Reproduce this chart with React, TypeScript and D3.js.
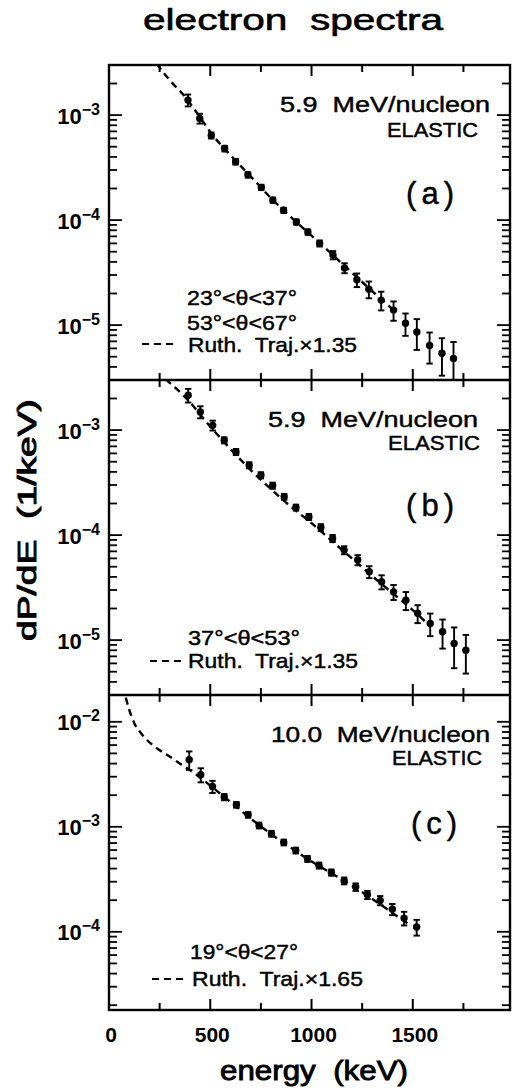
import React from 'react';
import * as d3 from 'd3';

// ---------- data ----------
const xTickValues = [0, 250, 500, 750, 1000, 1250, 1500, 1750];
const xLabelValues = [0, 500, 1000, 1500];
const xLabelTexts = ['0', '500', '1000', '1500'];

// panel (a) 5.9 MeV/nucleon, 23-37 / 53-67 deg
const energyA = [390, 448, 505, 571, 625, 686, 752, 809, 862, 925, 982, 1040, 1106, 1163, 1224, 1283, 1344, 1405, 1464, 1520, 1583, 1644, 1701];
const valueA = [1.39e-3, 9.3e-4, 6.4e-4, 4.8e-4, 3.6e-4, 2.7e-4, 2.05e-4, 1.55e-4, 1.24e-4, 9.6e-5, 7.7e-5, 6.0e-5, 4.65e-5, 3.5e-5, 2.7e-5, 2.2e-5, 1.73e-5, 1.39e-5, 1.04e-5, 8.6e-6, 6.4e-6, 5.4e-6, 4.8e-6];
const errA = [1.8e-4, 1.0e-4, 4.2e-5, 3.0e-5, 2.2e-5, 1.6e-5, 1.2e-5, 9e-6, 7e-6, 5.5e-6, 4.5e-6, 4e-6, 4.2e-6, 3.8e-6, 4e-6, 4e-6, 3.5e-6, 2.9e-6, 2.5e-6, 2.8e-6, 2.1e-6, 2.1e-6, 2.1e-6];
const curveEA = [235, 300, 375, 450, 500, 600, 700, 800, 900, 1000, 1100, 1200, 1300, 1400];
const curveVA = [3.1e-3, 2.15e-3, 1.5e-3, 9.5e-4, 6.9e-4, 4.15e-4, 2.6e-4, 1.62e-4, 1.06e-4, 7.1e-5, 4.75e-5, 3.15e-5, 2.1e-5, 1.42e-5];

// panel (b) 5.9 MeV/nucleon, 37-53 deg
const energyB = [391, 451, 512, 569, 627, 692, 750, 808, 865, 923, 987, 1046, 1104, 1161, 1228, 1285, 1346, 1405, 1466, 1524, 1586, 1647, 1704, 1762];
const valueB = [2.15e-3, 1.49e-3, 1.11e-3, 8.0e-4, 6.2e-4, 4.63e-4, 3.72e-4, 2.96e-4, 2.32e-4, 1.83e-4, 1.49e-4, 1.18e-4, 9.3e-5, 7.2e-5, 5.8e-5, 4.47e-5, 3.59e-5, 2.88e-5, 2.4e-5, 1.8e-5, 1.44e-5, 1.2e-5, 9.3e-6, 8.0e-6];
const errB = [3.2e-4, 1.95e-4, 1.2e-4, 5.3e-5, 4.1e-5, 3.1e-5, 2.5e-5, 2.0e-5, 1.5e-5, 1.2e-5, 1.0e-5, 9e-6, 7.2e-6, 6.3e-6, 6.4e-6, 5.8e-6, 5.5e-6, 4.7e-6, 4.7e-6, 3.5e-6, 3.5e-6, 3.7e-6, 3.9e-6, 3.2e-6];
const curveEB = [280, 390, 500, 600, 700, 800, 900, 1000, 1100, 1200, 1300, 1400, 1500, 1590];
const curveVB = [3.05e-3, 1.93e-3, 1.08e-3, 6.6e-4, 4.16e-4, 2.74e-4, 1.85e-4, 1.3e-4, 8.8e-5, 6.0e-5, 4.07e-5, 2.8e-5, 1.93e-5, 1.33e-5];

// panel (c) 10.0 MeV/nucleon, 19-27 deg
const energyC = [396, 453, 511, 569, 629, 687, 741, 802, 863, 922, 980, 1037, 1098, 1161, 1218, 1276, 1339, 1399, 1457, 1519];
const valueC = [4.35e-3, 3.13e-3, 2.42e-3, 1.92e-3, 1.62e-3, 1.30e-3, 1.03e-3, 8.6e-4, 7.1e-4, 5.95e-4, 4.95e-4, 4.28e-4, 3.67e-4, 3.06e-4, 2.67e-4, 2.25e-4, 1.99e-4, 1.64e-4, 1.35e-4, 1.11e-4];
const errC = [8.7e-4, 4.8e-4, 3.2e-4, 1.3e-4, 1.0e-4, 8e-5, 6.5e-5, 5.5e-5, 4.5e-5, 3.8e-5, 3.2e-5, 2.8e-5, 2.5e-5, 2.3e-5, 2.2e-5, 2.0e-5, 2.0e-5, 2.0e-5, 2.0e-5, 1.9e-5];
const curveEC = [83, 100, 125, 165, 225, 290, 355, 430, 570, 735, 980, 1200, 1480];
const curveVC = [1.7e-2, 1.3e-2, 9.7e-3, 7.5e-3, 5.8e-3, 4.8e-3, 3.95e-3, 3.15e-3, 1.92e-3, 1.06e-3, 4.95e-4, 2.75e-4, 1.18e-4];

const domainAB = [3e-6, 3e-3];
const domainC = [1.8e-5, 1.8e-2];

const beamTexts = ['5.9  MeV/nucleon', '5.9  MeV/nucleon', '10.0  MeV/nucleon'];
const tagTexts = ['(a)', '(b)', '(c)'];
const angleTexts = [['23°<θ<37°', '53°<θ<67°'], ['37°<θ<53°'], ['19°<θ<27°']];
const legendTexts = ['Ruth.  Traj.×1.35', 'Ruth.  Traj.×1.35', 'Ruth.  Traj.×1.65'];

// ---------- layout ----------
const W = 513;
const H = 1090;
const LEFT = 109;
const RIGHT = 510;
const PANEL_H = 315;
const TOP = 65;
const FONT = "'Liberation Sans', Arial, Helvetica, sans-serif";
const TXT = { fill: '#000', stroke: '#000', strokeWidth: 0.45 };

const panelData = [
  { domain: domainAB, E: energyA, V: valueA, Er: errA, cE: curveEA, cV: curveVA },
  { domain: domainAB, E: energyB, V: valueB, Er: errB, cE: curveEB, cV: curveVB },
  { domain: domainC, E: energyC, V: valueC, Er: errC, cE: curveEC, cV: curveVC },
];

const panelLayout = [
  {
    beam: { x0: 280, x1: 490, y: 112 }, el: { x0: 387, x1: 478, y: 137 }, tag: { x0: 406, x1: 454, y: 204 },
    angles: [{ x0: 187, x1: 297, y: 305 }, { x0: 187, x1: 297, y: 330 }],
    leg: { d0: 142, d1: 173, dy: 344, x0: 188, x1: 357, y: 352 },
  },
  {
    beam: { x0: 268, x1: 478, y: 427 }, el: { x0: 388, x1: 480, y: 450 }, tag: { x0: 406, x1: 454, y: 516 },
    angles: [{ x0: 188, x1: 300, y: 645 }],
    leg: { d0: 150, d1: 183, dy: 661, x0: 188, x1: 358, y: 668 },
  },
  {
    beam: { x0: 271, x1: 490, y: 742 }, el: { x0: 392, x1: 482, y: 765 }, tag: { x0: 411, x1: 457, y: 834 },
    angles: [{ x0: 190, x1: 298, y: 959 }],
    leg: { d0: 152, d1: 187, dy: 979, x0: 192, x1: 363, y: 986 },
  },
];

function logTicks(domain: number[]) {
  const out: { v: number; major: boolean; exp: number }[] = [];
  const e0 = Math.floor(Math.log10(domain[0]));
  const e1 = Math.ceil(Math.log10(domain[1]));
  for (let e = e0; e <= e1; e++) {
    for (let m = 1; m <= 9; m++) {
      const v = m * Math.pow(10, e);
      if (v >= domain[0] * 0.999 && v <= domain[1] * 1.001) out.push({ v, major: m === 1, exp: e });
    }
  }
  return out;
}

const x = d3.scaleLinear().domain([0, 1980]).range([LEFT, RIGHT]);

function Panel({ idx }: { idx: number }) {
  const pd = panelData[idx];
  const lay = panelLayout[idx];
  const top = TOP + idx * PANEL_H;
  const bottom = top + PANEL_H;
  const y = d3.scaleLog().domain(pd.domain).range([bottom, top]);
  const ticks = logTicks(pd.domain);
  const line = d3
    .line<number>()
    .x((_, i) => x(pd.cE[i]))
    .y((_, i) => y(pd.cV[i]))
    .curve(d3.curveMonotoneX);
  const clipId = `clip${idx}`;
  return (
    <g>
      <defs>
        <clipPath id={clipId}>
          <rect x={LEFT} y={top} width={RIGHT - LEFT} height={PANEL_H} />
        </clipPath>
      </defs>
      {xTickValues.map((v) => {
        const major = v % 500 === 0;
        const len = major ? 11 : 7;
        if (v === 0) return null;
        return (
          <g key={'xt' + v}>
            <line x1={x(v)} x2={x(v)} y1={top} y2={top + len} stroke="#000" strokeWidth={2} />
            <line x1={x(v)} x2={x(v)} y1={bottom} y2={bottom - len} stroke="#000" strokeWidth={2} />
          </g>
        );
      })}
      {ticks.map((t, i) => {
        const yy = y(t.v);
        const len = t.major ? 13 : 8;
        return (
          <g key={'yt' + i}>
            <line x1={LEFT} x2={LEFT + len} y1={yy} y2={yy} stroke="#000" strokeWidth={1.8} />
            <line x1={RIGHT} x2={RIGHT - len} y1={yy} y2={yy} stroke="#000" strokeWidth={1.8} />
          </g>
        );
      })}
      {ticks
        .filter((t) => t.major)
        .map((t, i) => (
          <text key={'yl' + i} x={100} y={y(t.v) + 8.5} textAnchor="end" fontFamily={FONT} fontWeight="bold" fontSize={22}>
            10
            <tspan fontSize={16} dy={-9}>{'−' + Math.abs(t.exp)}</tspan>
          </text>
        ))}
      <path
        d={line(pd.cE) || ''}
        fill="none"
        stroke="#000"
        strokeWidth={2.4}
        strokeDasharray="7,5"
        clipPath={`url(#${clipId})`}
      />
      {pd.E.map((e, i) => {
        const cx = x(e);
        const v = pd.V[i];
        const er = pd.Er[i];
        const yHi = y(v + er);
        const yLo = y(Math.max(v - er, pd.domain[0]));
        return (
          <g key={'p' + i}>
            <line x1={cx} x2={cx} y1={yHi} y2={yLo} stroke="#000" strokeWidth={1.9} />
            <line x1={cx - 3.2} x2={cx + 3.2} y1={yHi} y2={yHi} stroke="#000" strokeWidth={1.9} />
            <line x1={cx - 3.2} x2={cx + 3.2} y1={yLo} y2={yLo} stroke="#000" strokeWidth={1.9} />
            <circle cx={cx} cy={y(v)} r={3.7} fill="#000" />
          </g>
        );
      })}
      <text x={lay.beam.x0} y={lay.beam.y} fontFamily={FONT} fontSize={22} {...TXT} textLength={lay.beam.x1 - lay.beam.x0} lengthAdjust="spacingAndGlyphs" style={{ whiteSpace: 'pre' }}>
        {beamTexts[idx]}
      </text>
      <text x={lay.el.x0} y={lay.el.y} fontFamily={FONT} fontSize={21} {...TXT} textLength={lay.el.x1 - lay.el.x0} lengthAdjust="spacingAndGlyphs">
        ELASTIC
      </text>
      <text x={lay.tag.x0} y={lay.tag.y} fontFamily={FONT} fontSize={31} {...TXT} textLength={lay.tag.x1 - lay.tag.x0} lengthAdjust="spacing">
        {tagTexts[idx]}
      </text>
      {angleTexts[idx].map((s, j) => (
        <text key={'a' + j} x={lay.angles[j].x0} y={lay.angles[j].y} fontFamily={FONT} fontSize={21} {...TXT} textLength={lay.angles[j].x1 - lay.angles[j].x0} lengthAdjust="spacingAndGlyphs">
          {s}
        </text>
      ))}
      <line x1={lay.leg.d0} x2={lay.leg.d1} y1={lay.leg.dy} y2={lay.leg.dy} stroke="#000" strokeWidth={2.2} strokeDasharray="7,5" />
      <text x={lay.leg.x0} y={lay.leg.y} fontFamily={FONT} fontSize={21} {...TXT} textLength={lay.leg.x1 - lay.leg.x0} lengthAdjust="spacingAndGlyphs" style={{ whiteSpace: 'pre' }}>
        {legendTexts[idx]}
      </text>
    </g>
  );
}

export default function App() {
  const bottomAll = TOP + 3 * PANEL_H;
  return (
    <svg
      width={W}
      height={H}
      viewBox={`0 0 ${W} ${H}`}
      style={{ position: 'absolute', left: 0, top: 0, background: '#fff', display: 'block' }}
    >
      <rect x={0} y={0} width={W} height={H} fill="#fff" />
      <text x={143} y={30} fontFamily={FONT} fontSize={29} {...TXT} strokeWidth={0.6} textLength={300} lengthAdjust="spacingAndGlyphs" style={{ whiteSpace: 'pre' }}>
        electron  spectra
      </text>
      {[0, 1, 2].map((i) => (
        <Panel key={i} idx={i} />
      ))}
      <rect x={LEFT} y={TOP} width={RIGHT - LEFT} height={bottomAll - TOP} fill="none" stroke="#000" strokeWidth={2.4} />
      <line x1={LEFT} x2={RIGHT} y1={TOP + PANEL_H} y2={TOP + PANEL_H} stroke="#000" strokeWidth={2.4} />
      <line x1={LEFT} x2={RIGHT} y1={TOP + 2 * PANEL_H} y2={TOP + 2 * PANEL_H} stroke="#000" strokeWidth={2.4} />
      {xLabelValues.map((v, i) => (
        <text key={'xl' + v} x={x(v) + 2} y={1042} textAnchor="middle" fontFamily={FONT} fontWeight="bold" fontSize={21}>
          {xLabelTexts[i]}
        </text>
      ))}
      <text x={220} y={1080} fontFamily={FONT} fontSize={28} {...TXT} strokeWidth={0.9} textLength={188} lengthAdjust="spacingAndGlyphs" style={{ whiteSpace: 'pre' }}>
        energy  (keV)
      </text>
      <text
        transform="translate(36,520) rotate(-90)"
        textAnchor="middle"
        fontFamily={FONT}
        fontSize={25}
        {...TXT}
        strokeWidth={0.9}
        textLength={242}
        lengthAdjust="spacingAndGlyphs"
        style={{ whiteSpace: 'pre' }}
      >
        dP/dE  (1/keV)
      </text>
    </svg>
  );
}
